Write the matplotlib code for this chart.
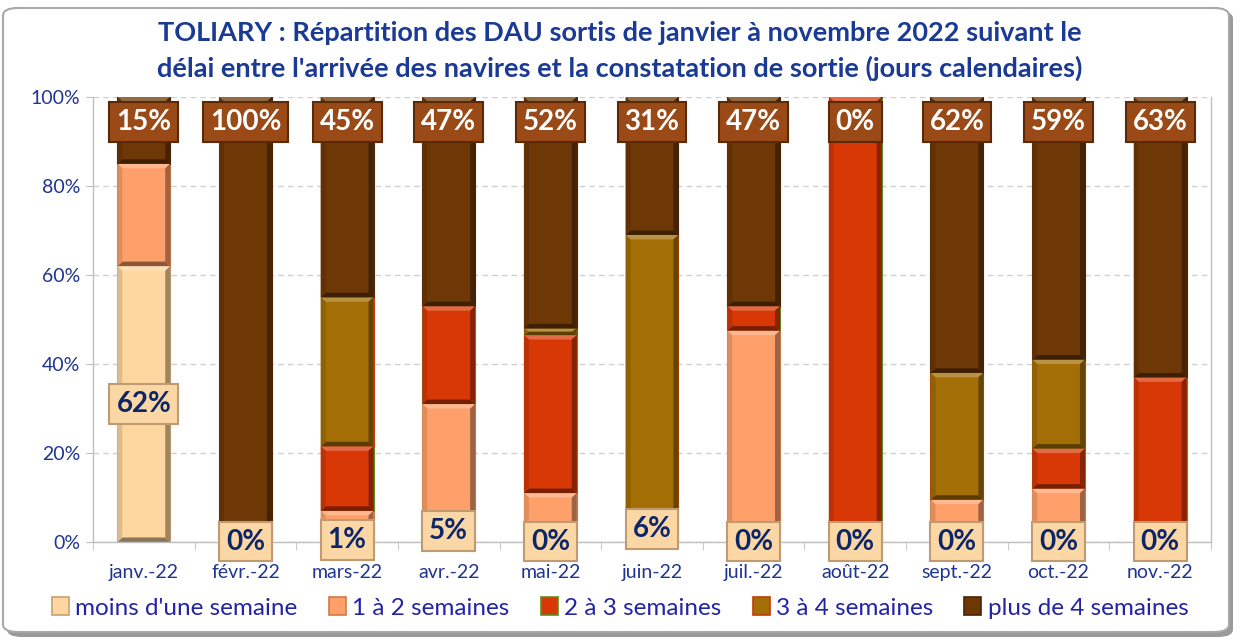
import matplotlib
matplotlib.use("Agg")
import matplotlib.pyplot as plt
from matplotlib.patches import Polygon, Rectangle, FancyBboxPatch, Patch
from matplotlib.colors import to_rgb
import numpy as np

categories = ['janv.-22', 'févr.-22', 'mars-22', 'avr.-22', 'mai-22', 'juin-22',
              'juil.-22', 'août-22', 'sept.-22', 'oct.-22', 'nov.-22']
moins_une_semaine = [62, 0, 1, 5, 0, 6, 0, 0, 0, 0, 0]
un_a_deux = [23, 0, 6, 26, 11, 0, 47.5, 0, 9.5, 12, 0]
deux_a_trois = [0, 0, 14.5, 22, 35.5, 0, 5.5, 100, 0, 9, 37]
trois_a_quatre = [0, 0, 33.5, 0, 1.5, 63, 0, 0, 28.5, 20, 0]
plus_de_quatre = [15, 100, 45, 47, 52, 31, 47, 0, 62, 59, 63]
series_names = ["moins d'une semaine", "1 à 2 semaines", "2 à 3 semaines",
                "3 à 4 semaines", "plus de 4 semaines"]

colors = ['#FDD6A0', '#FFA06A', '#D83806', '#A36E06', '#6E3806']
edges = ['#C8A070', '#D07A48', '#5E8C1E', '#C83A08', '#4A2404']

FONT = ['Lato', 'DejaVu Sans']
plt.rcParams['font.family'] = FONT
NAVY = '#1F3590'

fig = plt.figure(figsize=(12.4, 6.41), dpi=100)

# frame with shadow
shadow = FancyBboxPatch((7 / 1240, 4 / 641), 1226 / 1240, 626 / 641,
                        boxstyle="round,pad=0,rounding_size=0.012",
                        transform=fig.transFigure, facecolor='#9a9a9a',
                        edgecolor='none', zorder=-2)
frame = FancyBboxPatch((3 / 1240, 9 / 641), 1226 / 1240, 624 / 641,
                       boxstyle="round,pad=0,rounding_size=0.012",
                       transform=fig.transFigure, facecolor='white',
                       edgecolor='#a8a8a8', linewidth=1.5, zorder=-1)
fig.patches.extend([shadow, frame])

ax = fig.add_axes([93 / 1240, 1 - 542 / 641, 1118 / 1240, 445 / 641])
ax.set_facecolor('none')
ax.set_zorder(1)

x = np.arange(len(categories))
width = 0.52
data = [moins_une_semaine, un_a_deux, deux_a_trois, trois_a_quatre, plus_de_quatre]

px_x = 11 / 1118.0
px_y = 100 / 445.0


def mix(c, t, amount):
    c = np.array(to_rgb(c))
    t = np.array(to_rgb(t))
    return tuple(c * (1 - amount) + t * amount)


def bevel(x0, y0, w, h, color, edge):
    if h <= 0:
        return
    bx = 5 * px_x
    by = min(4.5 * px_y, h / 2.0)
    x1, y1 = x0 + w, y0 + h
    top = [(x0, y1), (x1, y1), (x1 - bx, y1 - by), (x0 + bx, y1 - by)]
    bot = [(x0, y0), (x1, y0), (x1 - bx, y0 + by), (x0 + bx, y0 + by)]
    left = [(x0, y0), (x0, y1), (x0 + bx, y1 - by), (x0 + bx, y0 + by)]
    right = [(x1, y0), (x1, y1), (x1 - bx, y1 - by), (x1 - bx, y0 + by)]
    ax.add_patch(Polygon(top, closed=True, facecolor=mix(color, 'white', 0.25),
                         edgecolor='none', zorder=2.1))
    ax.add_patch(Polygon(bot, closed=True, facecolor=mix(color, 'black', 0.45),
                         edgecolor='none', zorder=2.1))
    ax.add_patch(Polygon(left, closed=True, facecolor=mix(color, 'black', 0.12),
                         edgecolor='none', zorder=2.1))
    ax.add_patch(Polygon(right, closed=True, facecolor=mix(color, 'black', 0.38),
                         edgecolor='none', zorder=2.1))


bottoms = np.zeros(len(categories))
for s, vals in enumerate(data):
    bars = ax.bar(x, vals, width, bottom=bottoms, color=colors[s],
                  edgecolor=edges[s], linewidth=0.8, zorder=2, label=series_names[s])
    for b in bars:
        bevel(b.get_x(), b.get_y(), b.get_width(), b.get_height(), colors[s], edges[s])
    bottoms += np.array(vals)

# labels
for i in range(len(categories)):
    v = moins_une_semaine[i]
    ax.text(x[i], v / 2.0 if v > 0 else 0.1, f"{v:.0f}%", ha='center', va='center',
            fontsize=20, fontweight='bold', color='#0C2668', zorder=5,
            bbox=dict(boxstyle='square,pad=0.25', facecolor='#FCD7A6',
                      edgecolor='#C09A70', linewidth=1.5))
    p = plus_de_quatre[i]
    ax.text(x[i], 94.4, f"{p:.0f}%", ha='center', va='center',
            fontsize=20, fontweight='bold', color='white', zorder=5,
            bbox=dict(boxstyle='square,pad=0.25', facecolor='#9A4A16',
                      edgecolor='#5A2A08', linewidth=1.5))

ax.set_xlim(-0.5, len(categories) - 0.5)
ax.set_ylim(0, 100)
ax.set_yticks([0, 20, 40, 60, 80, 100])
ax.set_yticklabels(['0%', '20%', '40%', '60%', '80%', '100%'])
ax.set_xticks(x)
ax.set_xticklabels(categories)
ax.set_xticks(np.arange(-0.5, len(categories), 1.0), minor=True)
ax.tick_params(axis='x', which='major', length=0, labelsize=14, colors=NAVY, pad=16)
ax.tick_params(axis='x', which='minor', length=6, color='#bfbfbf', direction='out')
ax.tick_params(axis='y', length=5, color='#bfbfbf', labelsize=14, colors=NAVY, pad=4)
for lab in ax.get_yticklabels() + ax.get_xticklabels():
    lab.set_color(NAVY)

ax.yaxis.grid(True, linestyle=(0, (4, 3)), color='#d0d0d0', linewidth=1, zorder=0)
ax.set_axisbelow(True)
for side in ['left', 'bottom', 'right']:
    ax.spines[side].set_color('#bfbfbf')
    ax.spines[side].set_linewidth(1)
ax.spines['top'].set_visible(False)

fig.text(0.5, 1 - 33 / 641, "TOLIARY : Répartition des DAU sortis de janvier à novembre 2022 suivant le",
         ha='center', va='center', fontsize=19.5, fontweight='bold', color='#1B3A94')
fig.text(0.5, 1 - 68 / 641, "délai entre l'arrivée des navires et la constatation de sortie (jours calendaires)",
         ha='center', va='center', fontsize=19.5, fontweight='bold', color='#1B3A94')

handles = [Patch(facecolor=colors[s], edgecolor=edges[s], linewidth=1.2) for s in range(5)]
leg = fig.legend(handles, series_names, loc='center', bbox_to_anchor=(0.5, 1 - 608 / 641),
                 ncol=5, frameon=False, fontsize=17.5, handlelength=0.7, handleheight=0.7,
                 handletextpad=0.25, columnspacing=1.3)
for t in leg.get_texts():
    t.set_color('#2323A8')

fig.savefig('out.png', dpi=100)
